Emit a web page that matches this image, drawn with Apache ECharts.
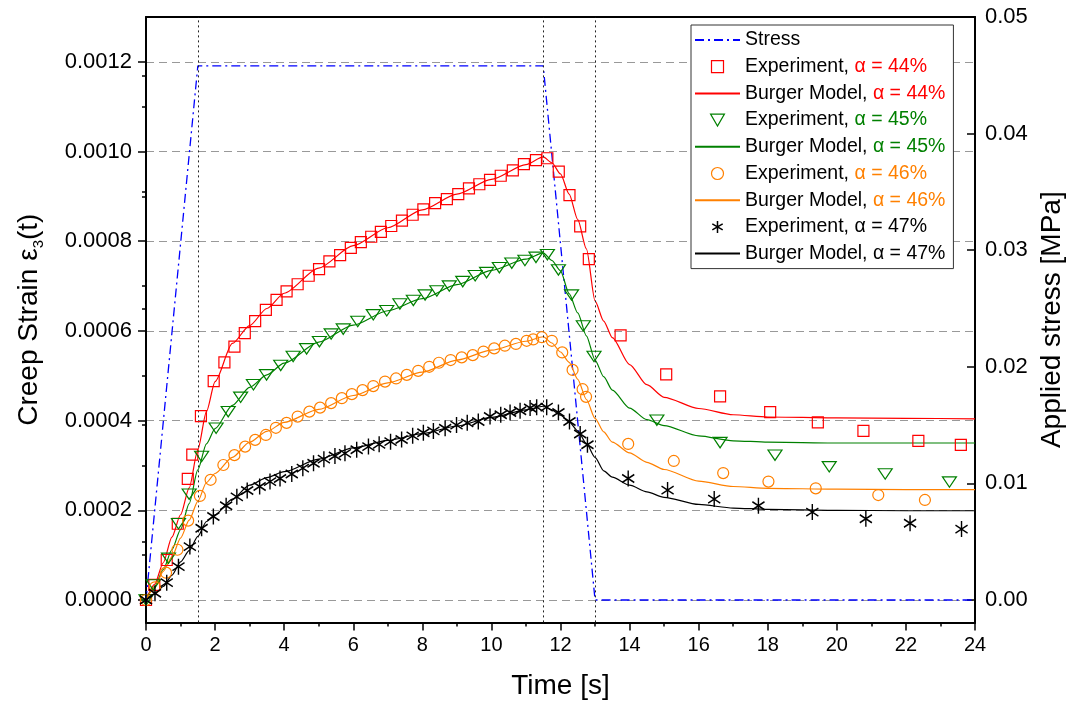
<!DOCTYPE html>
<html><head><meta charset="utf-8">
<script src="https://cdn.jsdelivr.net/npm/echarts@6/dist/echarts.min.js"></script>
<style>html,body{margin:0;padding:0;background:#fff}#c{width:1067px;height:702px}</style>
</head><body><div id="c"></div>
<script>
// ---- data ----
const stressTime  = [0, 1.5, 11.5, 13, 24];
const stressValue = [0, 0.0458, 0.0458, 0, 0];
const eventTimes  = [1.5, 11.5, 13];

const strainTicks      = [0, 0.0002, 0.0004, 0.0006, 0.0008, 0.0010, 0.0012];
const strainMinorTicks = [0.0001, 0.0003, 0.0005, 0.0007, 0.0009, 0.0011];
const stressTicks      = [0, 0.01, 0.02, 0.03, 0.04, 0.05];
const stressMinorTicks = [0.005, 0.015, 0.025, 0.035, 0.045];

const expTime44 = [0, 0.24, 0.60, 0.92, 1.21, 1.34, 1.59, 1.96, 2.27, 2.56, 2.86, 3.16, 3.47, 3.78, 4.07, 4.39, 4.71, 5.01, 5.31, 5.62, 5.93, 6.22, 6.52, 6.80, 7.10, 7.41, 7.72, 8.03, 8.37, 8.71, 9.04, 9.35, 9.65, 9.96, 10.27, 10.62, 10.94, 11.29, 11.62, 11.95, 12.26, 12.57, 12.82, 13.74, 15.06, 16.62, 18.07, 19.45, 20.77, 22.36, 23.59];
const expStrain44 = [0, 0.0000335, 0.0000892, 0.00017, 0.00027, 0.000324, 0.00041, 0.000488, 0.00053, 0.000565, 0.000595, 0.000622, 0.000647, 0.000669, 0.000688, 0.000704, 0.000723, 0.000738, 0.000755, 0.000769, 0.000785, 0.000798, 0.00081, 0.000821, 0.000834, 0.000846, 0.000859, 0.000871, 0.000885, 0.000894, 0.000905, 0.000918, 0.000927, 0.000937, 0.000946, 0.000958, 0.000972, 0.000981, 0.000985, 0.000955, 0.000903, 0.000833, 0.00076, 0.00059, 0.000503, 0.000454, 0.000419, 0.000396, 0.000377, 0.000355, 0.000346];

const expTime45 = [0, 0.21, 0.65, 0.94, 1.25, 1.61, 2.03, 2.38, 2.74, 3.11, 3.49, 3.90, 4.26, 4.65, 5.02, 5.36, 5.71, 6.13, 6.58, 6.97, 7.35, 7.74, 8.08, 8.42, 8.78, 9.17, 9.53, 9.86, 10.23, 10.59, 10.97, 11.29, 11.62, 11.94, 12.32, 12.66, 12.97, 14.79, 16.62, 18.21, 19.78, 21.40, 23.26];
const expStrain45 = [0, 0.0000335, 0.000093, 0.00017, 0.000236, 0.00032, 0.000383, 0.00042, 0.000452, 0.00048, 0.000502, 0.000523, 0.000543, 0.00056, 0.000576, 0.000593, 0.000604, 0.000621, 0.000636, 0.000645, 0.00066, 0.000668, 0.00068, 0.000689, 0.0007, 0.00071, 0.000723, 0.00073, 0.000741, 0.000751, 0.000757, 0.000764, 0.00077, 0.000736, 0.00068, 0.000611, 0.000543, 0.000401, 0.000351, 0.000323, 0.000297, 0.000281, 0.000263];

const expTime46 = [0, 0.26, 0.58, 0.91, 1.22, 1.56, 1.87, 2.24, 2.56, 2.87, 3.16, 3.47, 3.76, 4.07, 4.39, 4.73, 5.04, 5.36, 5.67, 5.96, 6.27, 6.58, 6.92, 7.24, 7.55, 7.88, 8.20, 8.48, 8.82, 9.14, 9.46, 9.77, 10.08, 10.39, 10.71, 11.02, 11.21, 11.46, 11.75, 12.05, 12.35, 12.64, 12.74, 13.96, 15.28, 16.71, 18.02, 19.39, 21.20, 22.55];
const expStrain46 = [0, 0.0000283, 0.0000609, 0.000112, 0.000177, 0.000232, 0.000268, 0.000301, 0.000323, 0.000342, 0.000357, 0.000368, 0.000384, 0.000395, 0.000409, 0.00042, 0.000429, 0.000439, 0.00045, 0.000459, 0.000468, 0.000477, 0.000487, 0.000494, 0.000502, 0.000511, 0.00052, 0.000529, 0.000535, 0.000541, 0.000546, 0.000554, 0.000561, 0.000567, 0.000571, 0.000578, 0.000581, 0.000586, 0.000578, 0.000552, 0.000513, 0.00047, 0.000453, 0.000348, 0.00031, 0.000283, 0.000264, 0.000249, 0.000234, 0.000223];

const expTime47 = [0, 0.26, 0.60, 0.94, 1.27, 1.61, 1.95, 2.32, 2.63, 2.93, 3.29, 3.59, 3.88, 4.22, 4.54, 4.85, 5.15, 5.47, 5.76, 6.10, 6.44, 6.75, 7.08, 7.40, 7.72, 8.03, 8.32, 8.66, 8.99, 9.30, 9.62, 9.96, 10.27, 10.54, 10.83, 11.12, 11.31, 11.60, 11.94, 12.26, 12.57, 12.78, 13.96, 15.10, 16.45, 17.73, 19.29, 20.84, 22.12, 23.61];
const expStrain47 = [0, 0.0000149, 0.0000386, 0.0000743, 0.000119, 0.00016, 0.000186, 0.00021, 0.00023, 0.000244, 0.000253, 0.000264, 0.000271, 0.000281, 0.000294, 0.000305, 0.000314, 0.000321, 0.000327, 0.000335, 0.000342, 0.000347, 0.000353, 0.000358, 0.000366, 0.000373, 0.000377, 0.000383, 0.00039, 0.000395, 0.000398, 0.000409, 0.000413, 0.000418, 0.000422, 0.000428, 0.00043, 0.00043, 0.000418, 0.000398, 0.00037, 0.000346, 0.000271, 0.000245, 0.000225, 0.00021, 0.000196, 0.000181, 0.000171, 0.000158];

const modelTime = [0, 0.25, 0.5, 0.75, 1, 1.25, 1.5, 1.75, 2, 2.5, 3, 3.5, 4, 5, 6, 7, 8, 9, 10, 11, 11.5, 11.75, 12, 12.25, 12.5, 12.75, 13, 13.25, 13.5, 14, 14.5, 15, 16, 17, 18, 20, 22, 24];
const model44 = [0, 0.000035, 0.000083, 0.00014, 0.00019, 0.00025, 0.000335, 0.00042, 0.000487, 0.000572, 0.000612, 0.00065, 0.000684, 0.00074, 0.00079, 0.00083, 0.00087, 0.000905, 0.000938, 0.000971, 0.000988, 0.000975, 0.00095, 0.000905, 0.000848, 0.000783, 0.000667, 0.000622, 0.000585, 0.000525, 0.00048, 0.000452, 0.000427, 0.000413, 0.000408, 0.000406, 0.000405, 0.000404];
const model45 = [0, 0.00003, 0.000068, 0.000112, 0.000157, 0.000215, 0.00029, 0.000348, 0.000382, 0.000434, 0.000474, 0.000502, 0.000528, 0.000575, 0.000613, 0.000645, 0.000672, 0.000703, 0.000735, 0.00076, 0.000774, 0.000757, 0.000734, 0.000683, 0.00064, 0.000589, 0.000535, 0.000498, 0.000468, 0.000428, 0.000402, 0.000389, 0.000366, 0.000355, 0.000352, 0.00035, 0.00035, 0.00035];
const model46 = [0, 0.000028, 0.000064, 0.000096, 0.000138, 0.000178, 0.00022, 0.000262, 0.000282, 0.000318, 0.000352, 0.000376, 0.000396, 0.000425, 0.000456, 0.000484, 0.000508, 0.000535, 0.000557, 0.000577, 0.000587, 0.000573, 0.000553, 0.00053, 0.000492, 0.000447, 0.000405, 0.000375, 0.000352, 0.000328, 0.000307, 0.000291, 0.000265, 0.000253, 0.000249, 0.000247, 0.000246, 0.000246];
const model47 = [0, 0.000013, 0.00003, 0.000055, 0.000085, 0.00011, 0.000142, 0.000175, 0.00019, 0.000225, 0.000256, 0.000273, 0.000286, 0.000314, 0.000339, 0.000356, 0.000371, 0.000388, 0.000407, 0.000424, 0.000432, 0.000424, 0.000412, 0.000397, 0.000377, 0.000349, 0.000318, 0.000288, 0.000274, 0.000256, 0.000241, 0.000229, 0.000213, 0.000205, 0.000202, 0.0002, 0.000199, 0.000199];

const seriesNames = ['Stress',
  'Experiment, α = 44%', 'Burger Model, α = 44%',
  'Experiment, α = 45%', 'Burger Model, α = 45%',
  'Experiment, α = 46%', 'Burger Model, α = 46%',
  'Experiment, α = 47%', 'Burger Model, α = 47%'];

// ---- styling ----
const FONT = '"Liberation Sans", Arial, Helvetica, sans-serif';
const RED = '#FF0000', GREEN = '#008000', ORANGE = '#FF8000', BLACK = '#000000', BLUE = '#0000FF';
const pair = (xs, ys) => xs.map((x, i) => [x, ys[i]]);

const SYM_SQ = 'path://M0,0L10,0L10,10L0,10Z';
const SYM_TRI = 'path://M0,0L20,0L10,17.32Z';
const SYM_STAR = 'path://M0,-10L0,10M-8.66,-5L8.66,5M-8.66,5L8.66,-5';

function expSeries(name, t, s, symbol, size, color, bw) {
  return {
    name, type: 'scatter', xAxisIndex: 0, yAxisIndex: 0,
    data: pair(t, s), symbol, symbolSize: size, symbolKeepAspect: true,
    itemStyle: { color: 'rgba(0,0,0,0)', borderColor: color, borderWidth: bw || 1.2, opacity: 1 },
    z: 5, silent: true
  };
}
function modelSeries(name, s, color) {
  return {
    name, type: 'line', xAxisIndex: 0, yAxisIndex: 0,
    data: pair(modelTime, s), symbol: 'none', showSymbol: false,
    smooth: 0.25, smoothMonotone: 'x',
    lineStyle: { color, width: 1.2 }, itemStyle: { color }, z: 3, silent: true
  };
}

const richColors = { c44: RED, c45: GREEN, c46: ORANGE, c47: BLACK };
const rich = {};
Object.keys(richColors).forEach(k => {
  rich[k] = { color: richColors[k], fontSize: 19.5, fontFamily: FONT, lineHeight: 20 };
});

const option = {
  animation: false,
  backgroundColor: '#fff',
  grid: { left: 146, right: 92, top: 17, bottom: 79.6, containLabel: false, outerBoundsMode: 'none' },
  xAxis: [{
    type: 'value', min: 0, max: 24, interval: 2, position: 'bottom',
    name: 'Time [s]', nameLocation: 'middle', nameGap: 50,
    nameTextStyle: { fontFamily: FONT, fontSize: 28, color: '#000' },
    axisLine: { show: true, onZero: false, lineStyle: { color: '#000', width: 2 } },
    axisTick: { show: true, inside: false, length: 8, lineStyle: { color: '#000', width: 1.5 } },
    minorTick: { show: true, splitNumber: 2, length: 4, lineStyle: { color: '#000', width: 1.5 } },
    axisLabel: { fontFamily: FONT, fontSize: 20, color: '#000', margin: 13 },
    splitLine: { show: false }
  }, {
    type: 'value', min: 0, max: 24, position: 'top',
    axisLine: { show: true, onZero: false, lineStyle: { color: '#000', width: 2 } },
    axisTick: { show: false }, axisLabel: { show: false }, splitLine: { show: false }
  }],
  yAxis: [{
    type: 'value', min: -0.00005, max: 0.0013, position: 'left',
    name: '{a|Creep Strain ε}{b|3}{a|(t)}', nameLocation: 'middle', nameGap: 100, nameRotate: 90,
    nameTextStyle: {
      rich: {
        a: { fontFamily: FONT, fontSize: 28, color: '#000', lineHeight: 34 },
        b: { fontFamily: FONT, fontSize: 15, color: '#000', lineHeight: 15, verticalAlign: 'bottom' }
      }
    },
    axisLine: { show: true, onZero: false, lineStyle: { color: '#000', width: 2 } },
    axisTick: { show: true, inside: false, length: 8, customValues: strainTicks, lineStyle: { color: '#000', width: 1.5 } },
    axisLabel: { customValues: strainTicks, fontFamily: FONT, fontSize: 22, color: '#000', margin: 14,
                 formatter: v => Number(v).toFixed(4) },
    splitLine: { show: true, lineStyle: { color: '#999', type: [8, 5], width: 1.2 } }
  }, {
    type: 'value', min: -0.001921, max: 0.05, position: 'right',
    name: 'Applied stress [MPa]', nameLocation: 'middle', nameGap: 55, nameRotate: 90,
    nameTextStyle: { fontFamily: FONT, fontSize: 28, color: '#000' },
    axisLine: { show: true, onZero: false, lineStyle: { color: '#000', width: 2 } },
    axisTick: { show: true, inside: true, length: 8, customValues: stressTicks, lineStyle: { color: '#000', width: 1.5 } },
    axisLabel: { customValues: stressTicks, fontFamily: FONT, fontSize: 22, color: '#000', margin: 10,
                 formatter: v => Number(v).toFixed(2) },
    splitLine: { show: false }
  }, {
    type: 'value', min: -0.00005, max: 0.0013, position: 'left',
    axisLine: { show: false },
    axisTick: { show: true, inside: false, length: 4, customValues: strainMinorTicks, lineStyle: { color: '#000', width: 1.5 } },
    axisLabel: { show: false }, splitLine: { show: false }
  }, {
    type: 'value', min: -0.001921, max: 0.05, position: 'right',
    axisLine: { show: false },
    axisTick: { show: true, inside: true, length: 4, customValues: stressMinorTicks, lineStyle: { color: '#000', width: 1.5 } },
    axisLabel: { show: false }, splitLine: { show: false }
  }],
  legend: {
    orient: 'vertical', left: 691, top: 25,
    padding: [5, 8, 5, 3], itemGap: 6.7, itemWidth: 45, itemHeight: 12,
    backgroundColor: '#fff', borderColor: '#333', borderWidth: 1,
    selectedMode: false,
    itemStyle: { borderWidth: 1.2 },
    textStyle: { fontFamily: FONT, fontSize: 19.5, color: '#000', lineHeight: 20, rich },
    formatter: name => {
      const i = name.indexOf('α');
      if (i < 0) return name;
      const key = 'c' + name.match(/(\d+)%/)[1];
      return name.slice(0, i) + '{' + key + '|' + name.slice(i) + '}';
    },
    data: seriesNames.map(n => (n === 'Stress')
      ? { name: n, itemStyle: { opacity: 0 }, lineStyle: { width: 2 } }
      : (n.indexOf('Burger') === 0 ? { name: n, itemStyle: { opacity: 0 } }
         : (n.indexOf('47') > 0 ? { name: n, itemStyle: { borderWidth: 1.5 } } : { name: n })))
  },
  series: [
    {
      name: 'Stress', type: 'line', xAxisIndex: 0, yAxisIndex: 1,
      data: pair(stressTime, stressValue), symbol: 'none', showSymbol: false,
      lineStyle: { color: BLUE, width: 1.3, type: [9, 4, 2, 4] }, itemStyle: { color: BLUE },
      z: 2, silent: true,
      markLine: {
        silent: true, symbol: ['none', 'none'], label: { show: false },
        lineStyle: { color: '#222', type: [2, 3], width: 1 },
        emphasis: { disabled: true },
        data: eventTimes.map(t => ({ xAxis: t }))
      }
    },
    expSeries(seriesNames[1], expTime44, expStrain44, SYM_SQ, 11, RED),
    modelSeries(seriesNames[2], model44, RED),
    expSeries(seriesNames[3], expTime45, expStrain45, SYM_TRI, [14, 12], GREEN),
    modelSeries(seriesNames[4], model45, GREEN),
    expSeries(seriesNames[5], expTime46, expStrain46, 'circle', 11, ORANGE),
    modelSeries(seriesNames[6], model46, ORANGE),
    expSeries(seriesNames[7], expTime47, expStrain47, SYM_STAR, [14, 16], BLACK, 1.5),
    modelSeries(seriesNames[8], model47, BLACK)
  ]
};

const chart = echarts.init(document.getElementById('c'), null, { renderer: 'canvas' });
chart.setOption(option);
</script>
</body></html>
